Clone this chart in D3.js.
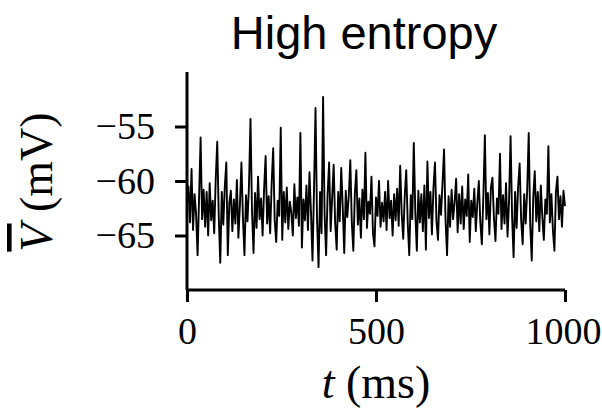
<!DOCTYPE html>
<html>
<head>
<meta charset="utf-8">
<script src="https://cdn.jsdelivr.net/npm/d3@7"></script>
<style>
  body { margin: 0; background: #fff; }
  svg { display: block; }
</style>
</head>
<body>
<svg id="chart" width="602" height="413"></svg>
<script>
// membrane potential trace, one sample every 4 ms
var dt = 4;
var vTrace = [
  -62.0, -60.5, -63.8, -58.9, -64.5, -61.2, -63.0, -66.8, -61.5, -56.0,
  -63.5, -60.8, -64.2, -61.0, -65.0, -60.2, -63.6, -61.8, -64.8, -59.8,
  -56.4, -63.2, -67.5, -61.0, -64.0, -60.5, -58.3, -66.8, -62.0, -60.9,
  -64.6, -61.7, -63.9, -59.9, -65.2, -62.2, -58.3, -63.4, -66.8, -61.3,
  -63.7, -60.4, -54.3, -62.8, -66.6, -61.1, -64.3, -59.6, -63.5, -61.6,
  -65.0, -60.7, -57.7, -63.9, -61.4, -64.8, -60.2, -57.0, -63.6, -65.6,
  -61.8, -63.2, -55.1, -65.4, -61.0, -63.8, -60.6, -64.4, -61.9, -62.9,
  -65.0, -60.3, -63.4, -61.5, -64.1, -55.6, -66.1, -61.7, -63.6, -60.4,
  -64.5, -59.2, -62.9, -67.3, -60.8, -53.3, -63.5, -67.9, -61.0, -64.8,
  -52.3, -63.0, -66.8, -61.2, -58.3, -64.6, -61.5, -58.5, -63.9, -66.3,
  -61.0, -63.7, -58.8, -62.4, -66.6, -60.9, -63.3, -61.4, -58.1, -63.8,
  -66.4, -61.2, -59.0, -64.0, -61.6, -65.2, -60.8, -63.5, -57.4, -64.3,
  -61.9, -63.0, -59.6, -64.8, -66.0, -61.5, -63.2, -60.0, -64.2, -62.0,
  -63.7, -61.0, -64.5, -60.0, -63.4, -61.8, -65.0, -61.2, -63.6, -60.7,
  -64.1, -58.6, -63.0, -65.3, -61.4, -59.0, -63.9, -66.8, -61.3, -63.5,
  -56.5, -62.9, -66.4, -60.9, -63.8, -61.2, -64.6, -60.4, -66.3, -58.2,
  -63.4, -61.0, -64.9, -60.6, -58.3, -63.7, -65.4, -61.3, -63.1, -60.2,
  -57.1, -63.6, -66.8, -61.4, -64.2, -60.8, -63.5, -61.9, -59.8, -64.7,
  -61.2, -63.9, -60.5, -64.4, -61.7, -63.2, -59.4, -65.6, -61.8, -63.3,
  -60.7, -64.6, -62.0, -60.0, -63.8, -65.8, -61.4, -55.8, -63.5, -61.1,
  -64.9, -60.6, -59.7, -63.4, -65.5, -61.6, -63.0, -57.5, -64.4, -61.3,
  -63.9, -60.2, -65.1, -61.8, -55.9, -63.2, -67.0, -61.0, -64.3, -60.5,
  -58.4, -63.6, -65.8, -61.2, -63.9, -60.8, -55.6, -64.0, -67.3, -61.5,
  -59.1, -63.7, -61.0, -64.6, -60.4, -63.3, -65.4, -61.7, -63.0, -56.8,
  -63.8, -61.2, -64.5, -66.4, -61.0, -59.6, -63.5, -61.4, -64.2, -60.9,
  -62.3
];
var xTicks = [0, 500, 1000];
var yTicks = [-55, -60, -65];
var title = "High entropy";

var svg = d3.select("#chart");
var serif = "'Liberation Serif', 'DejaVu Serif', serif";

var x = d3.scaleLinear().domain([0, 1000]).range([187, 565]);
var y = d3.scaleLinear().domain([-70, -50]).range([290, 72]);

// trace
var line = d3.line()
    .x(function (d, i) { return x(i * dt); })
    .y(function (d) { return y(d); });

svg.append("path")
    .datum(vTrace)
    .attr("fill", "none")
    .attr("stroke", "#000")
    .attr("stroke-width", 1.9)
    .attr("stroke-linejoin", "round")
    .attr("d", line);

// axes
var xAxis = svg.append("g")
    .attr("transform", "translate(0," + y(-70) + ")")
    .call(d3.axisBottom(x).tickValues(xTicks).tickSize(12).tickPadding(10)
        .tickFormat(d3.format("d")));

var yAxis = svg.append("g")
    .attr("transform", "translate(" + x(0) + ",0)")
    .call(d3.axisLeft(y).tickValues(yTicks).tickSize(12).tickPadding(20)
        .tickFormat(function (d) { return "\u2212" + Math.abs(d); }));

[xAxis, yAxis].forEach(function (g) {
    g.select(".domain").attr("stroke", "#000").attr("stroke-width", 3);
    g.selectAll(".tick line").attr("stroke", "#000").attr("stroke-width", 3);
    g.selectAll(".tick text")
        .attr("fill", "#000")
        .style("font-family", serif)
        .style("font-size", "38px");
});
xAxis.select(".domain").attr("d", "M" + x(0) + ",0H" + x(1000));
yAxis.select(".domain").attr("d", "M0," + y(-50) + "V" + y(-70));
xAxis.selectAll(".tick text").attr("dy", "0.85em");
// keep the last label inside the page, as in the picture
xAxis.selectAll(".tick text").filter(function (d) { return d === 1000; })
    .attr("text-anchor", "end").attr("x", 36);

// x label
var xl = svg.append("text")
    .attr("x", 376)
    .attr("y", 398)
    .attr("text-anchor", "middle")
    .style("font-family", serif)
    .style("font-size", "46px");
xl.append("tspan").style("font-style", "italic").text("t");
xl.append("tspan").text("\u00a0(ms)");

// y label
var yl = svg.append("text")
    .attr("transform", "translate(52,182) rotate(-90)")
    .attr("text-anchor", "middle")
    .style("font-family", serif)
    .style("font-size", "46px");
yl.append("tspan").style("font-style", "italic")
    .style("text-decoration", "overline").text("V");
yl.append("tspan").text("\u00a0(mV)");

// title
svg.append("text")
    .attr("x", 364)
    .attr("y", 49)
    .attr("text-anchor", "middle")
    .style("font-family", "'Liberation Sans', Arial, sans-serif")
    .style("font-size", "47px")
    .text(title);
</script>
</body>
</html>
